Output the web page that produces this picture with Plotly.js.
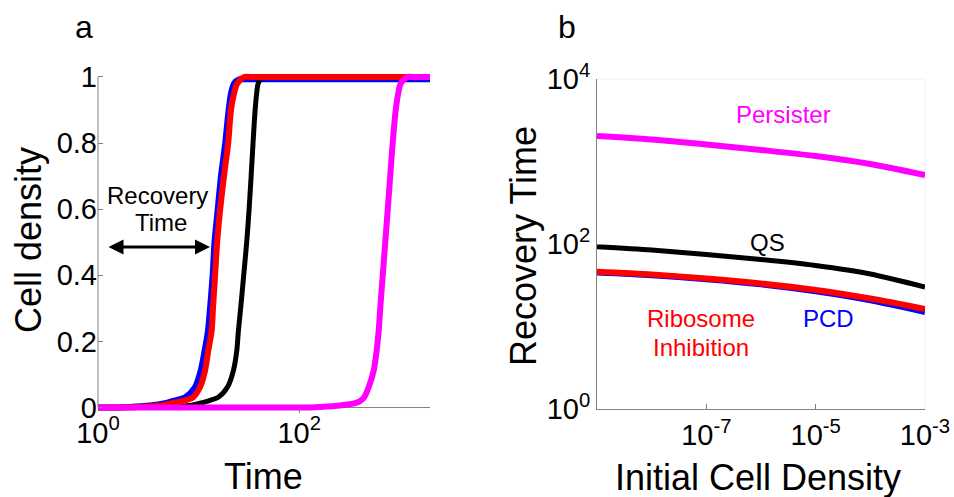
<!DOCTYPE html>
<html>
<head>
<meta charset="utf-8">
<script src="https://cdn.plot.ly/plotly-3.0.1.min.js"></script>
<style>html,body{margin:0;padding:0;background:#fff;}#chart{width:954px;height:497px;}</style>
</head>
<body>
<div id="chart"></div>
<script>
// ---------- Panel a: cell density vs time ----------
const pcdTime = [1, 2.08, 3.29, 4.64, 5.57, 7.35, 9.23, 10.5, 11.5, 12.4, 13.0, 13.8, 14.4, 15.5, 16.7, 18.4, 19.9, 21.0, 22.5, 25.3, 28.5, 35, 100, 2000];
const pcdDensity = [0, 0.002, 0.006, 0.013, 0.02, 0.031, 0.062, 0.112, 0.173, 0.233, 0.3, 0.4, 0.5, 0.6, 0.7, 0.8, 0.9, 0.95, 0.98, 0.993, 0.993, 0.993, 0.993, 0.993];

const qsTime = [1, 5.20, 8.22, 10.35, 12.1, 15.7, 19.4, 22.2, 24.0, 24.9, 26.2, 28.1, 30.1, 31.8, 33.3, 34.8, 36.5, 37.8, 39.1, 42.9, 48, 60, 200, 2000];
const qsDensity = [0, 0.002, 0.006, 0.013, 0.019, 0.031, 0.062, 0.112, 0.173, 0.233, 0.3, 0.4, 0.5, 0.6, 0.7, 0.8, 0.9, 0.95, 0.98, 1, 1, 1, 1, 1];

const riboTime = [1, 2.62, 4.14, 5.45, 7.01, 8.81, 10.35, 11.6, 12.5, 13.5, 13.9, 14.6, 15.3, 16.4, 17.9, 19.7, 21.0, 22.5, 24.2, 28.4, 32, 40, 100, 2000];
const riboDensity = [0, 0.002, 0.006, 0.013, 0.02, 0.031, 0.062, 0.112, 0.173, 0.233, 0.3, 0.4, 0.5, 0.6, 0.7, 0.8, 0.9, 0.95, 0.98, 1, 1, 1, 1, 1];

const persTime = [1, 10, 100, 162, 256, 361, 405, 444, 492, 551, 590, 618, 640, 678, 718, 760, 804, 851, 912, 966, 1023, 1188, 1320, 1600, 2000];
const persDensity = [0, 0, 0, 0.002, 0.006, 0.013, 0.02, 0.031, 0.062, 0.112, 0.173, 0.233, 0.3, 0.4, 0.5, 0.6, 0.7, 0.8, 0.9, 0.95, 0.98, 1, 1, 1, 1];

const timeTickVals = [1, 100];
const timeTickText = ['10<sup>0</sup>', '10<sup>2</sup>'];
const densityTickVals = [0, 0.2, 0.4, 0.6, 0.8, 1];
const densityTickText = ['0', '0.2', '0.4', '0.6', '0.8', '1'];

// ---------- Panel b: recovery time vs initial cell density ----------
const initDensity = [1e-9, 1e-8, 1e-7, 1e-6, 1e-5, 1e-4, 1e-3];
const persRecovery = [2040, 1850, 1610, 1380, 1165, 933, 685];
const qsRecovery = [92.7, 84.6, 74.6, 64.9, 54.8, 43.3, 30.1];
const riboRecovery = [46.1, 42.7, 38.2, 33.2, 27.7, 21.8, 16.3];
const pcdRecovery = [45.1, 41.8, 37.4, 32.4, 26.7, 20.8, 15.0];

const initTickVals = [1e-7, 1e-5, 1e-3];
const initTickText = ['10<sup>-7</sup>', '10<sup>-5</sup>', '10<sup>-3</sup>'];
const recTickVals = [1, 100, 10000];
const recTickText = ['10<sup>0</sup>', '10<sup>2</sup>', '10<sup>4</sup>'];

const BLUE = '#0000ff', RED = '#ff0000', BLACK = '#000000', MAGENTA = '#ff00ff';
const FONT = 'Liberation Sans, Arial, sans-serif';
const W = 954, H = 497;
const px = v => v / W, py = v => 1 - v / H;

function ln(color, width) { return {color: color, width: width, shape: 'spline', smoothing: 0.8}; }

const traces = [
  {x: pcdTime, y: pcdDensity, xaxis: 'x', yaxis: 'y', mode: 'lines', line: ln(BLUE, 6)},
  {x: qsTime, y: qsDensity, xaxis: 'x', yaxis: 'y', mode: 'lines', line: ln(BLACK, 5)},
  {x: riboTime, y: riboDensity, xaxis: 'x', yaxis: 'y', mode: 'lines', line: ln(RED, 6)},
  {x: persTime, y: persDensity, xaxis: 'x', yaxis: 'y', mode: 'lines', line: ln(MAGENTA, 6)},
  {x: initDensity, y: persRecovery, xaxis: 'x2', yaxis: 'y2', mode: 'lines', line: ln(MAGENTA, 6)},
  {x: initDensity, y: qsRecovery, xaxis: 'x2', yaxis: 'y2', mode: 'lines', line: ln(BLACK, 5)},
  {x: initDensity, y: pcdRecovery, xaxis: 'x2', yaxis: 'y2', mode: 'lines', line: ln(BLUE, 6)},
  {x: initDensity, y: riboRecovery, xaxis: 'x2', yaxis: 'y2', mode: 'lines', line: ln(RED, 6)}
];

function axisBase() {
  return {
    showgrid: false, zeroline: false, ticks: 'inside', ticklen: 5, tickcolor: '#808080',
    tickfont: {family: FONT, size: 29, color: '#000'}, fixedrange: true
  };
}

function ann(text, x, y, size, color, extra) {
  return Object.assign({text: text, x: px(x), y: py(y), xref: 'paper', yref: 'paper',
    showarrow: false, xanchor: 'center', yanchor: 'middle',
    font: {family: FONT, size: size, color: color}}, extra || {});
}

const layout = {
  width: W, height: H,
  margin: {l: 0, r: 0, t: 0, b: 0},
  paper_bgcolor: '#fff', plot_bgcolor: 'rgba(0,0,0,0)',
  showlegend: false,
  font: {family: FONT},
  xaxis: Object.assign(axisBase(), {
    domain: [98 / W, 430 / W], anchor: 'y', type: 'log', range: [0, Math.log10(2000)],
    tickmode: 'array', tickvals: timeTickVals, ticktext: timeTickText, showline: false
  }),
  yaxis: Object.assign(axisBase(), {
    domain: [(H - 412.5) / H, (H - 72) / H], anchor: 'x', range: [-0.015, 1.015],
    tickmode: 'array', tickvals: densityTickVals, ticktext: densityTickText, showline: false
  }),
  xaxis2: Object.assign(axisBase(), {
    domain: [597 / W, 925 / W], anchor: 'y2', type: 'log', range: [-9, -3],
    tickmode: 'array', tickvals: initTickVals, ticktext: initTickText,
    showline: true, linecolor: '#808080', linewidth: 1
  }),
  yaxis2: Object.assign(axisBase(), {
    domain: [(H - 409) / H, (H - 79) / H], anchor: 'x2', type: 'log', range: [0, 4],
    tickmode: 'array', tickvals: recTickVals, ticktext: recTickText,
    showline: true, linecolor: '#808080', linewidth: 1
  }),
  shapes: [
    {type: 'line', xref: 'x domain', yref: 'y', x0: 0, x1: 1, y0: 0, y1: 0, line: {color: '#808080', width: 1}, layer: 'below'},
    {type: 'line', xref: 'x domain', yref: 'y', x0: 0, x1: 0, y0: 0, y1: 1, line: {color: '#808080', width: 1}, layer: 'below'},
    {type: 'line', xref: 'x2 domain', yref: 'y2 domain', x0: 0, x1: 1, y0: 1, y1: 1, line: {color: '#f0f0f0', width: 1}, layer: 'below'},
    {type: 'line', xref: 'x2 domain', yref: 'y2 domain', x0: 1, x1: 1, y0: 0, y1: 1, line: {color: '#f0f0f0', width: 1}, layer: 'below'}
  ],
  annotations: [
    ann('a', 84, 27, 32, '#000'),
    ann('b', 567, 27, 32, '#000'),
    ann('Time', 263.5, 476, 36, '#000'),
    ann('Cell density', 28, 240, 36, '#000', {textangle: -90}),
    ann('Recovery Time', 523, 246, 36, '#000', {textangle: -90}),
    ann('Initial Cell Density', 757.5, 477, 36, '#000'),
    ann('Recovery', 157, 195, 24, '#000'),
    ann('Time', 161, 223, 24, '#000'),
    {text: '', x: px(210), y: py(247), xref: 'paper', yref: 'paper', showarrow: true,
      ax: -103, ay: 0, axref: 'pixel', ayref: 'pixel', arrowside: 'end+start',
      arrowhead: 2, startarrowhead: 2, arrowsize: 1, startarrowsize: 1, arrowwidth: 3,
      arrowcolor: '#000', standoff: 0, startstandoff: 0},
    ann('Persister', 783.5, 115, 24, MAGENTA),
    ann('QS', 767.5, 242, 24, BLACK),
    ann('Ribosome', 701, 318, 24, RED),
    ann('Inhibition', 701, 347, 24, RED),
    ann('PCD', 828, 318, 24, BLUE)
  ]
};

Plotly.newPlot('chart', traces, layout, {displayModeBar: false, staticPlot: true});
</script>
</body>
</html>
